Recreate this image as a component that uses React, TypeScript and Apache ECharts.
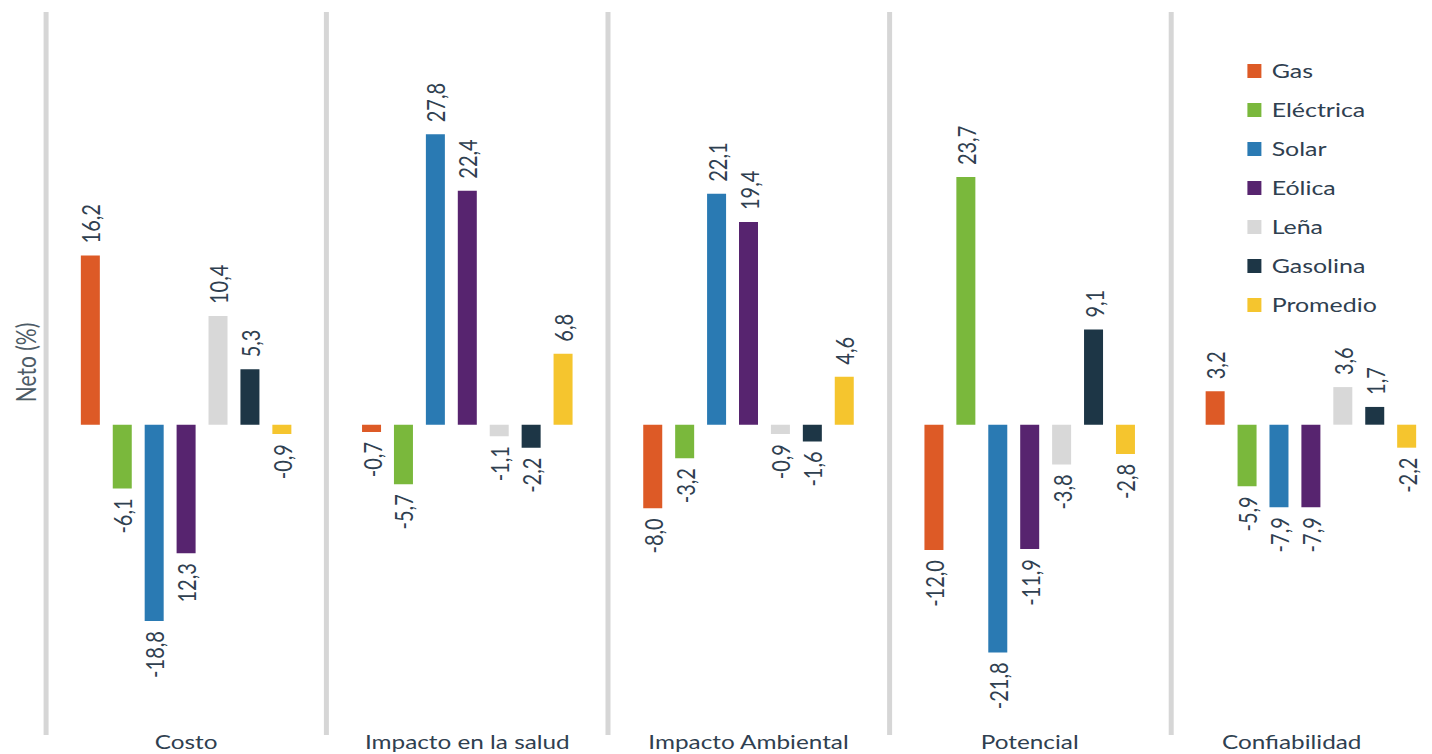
import React, { useEffect, useRef } from "react";
import * as echarts from "echarts";

const categories = ["Costo", "Impacto en la salud", "Impacto Ambiental", "Potencial", "Confiabilidad"];
const seriesNames = ["Gas", "Eléctrica", "Solar", "Eólica", "Leña", "Gasolina", "Promedio"];
const colors = ["#dd5a26", "#7ab83c", "#2a7ab3", "#57246f", "#d8d8d8", "#1d3646", "#f5c52e"];

const gas = [16.2, -0.7, -8.0, -12.0, 3.2];
const electrica = [-6.1, -5.7, -3.2, 23.7, -5.9];
const solar = [-18.8, 27.8, 22.1, -21.8, -7.9];
const eolica = [-12.3, 22.4, 19.4, -11.9, -7.9];
const lena = [10.4, -1.1, -0.9, -3.8, 3.6];
const gasolina = [5.3, -2.2, -1.6, 9.1, 1.7];
const promedio = [-0.9, 6.8, 4.6, -2.8, -2.2];

const seriesValues = [gas, electrica, solar, eolica, lena, gasolina, promedio];

// label text shown in the source differs from the sign of the value in one case
const labelOverrides: Record<string, string> = { "Eólica|Costo": "12,3" };

const FONT = "Lato";
const TEXT = "#2f4050";
// the reference is stretched horizontally; draw narrower and stretch with CSS
const SX = 1.28;
const px = (v: number) => v / SX;

export default function App() {
  const ref = useRef<HTMLDivElement>(null);
  useEffect(() => {
    document.body.style.margin = "0";
    const chart = echarts.init(ref.current!, null, { renderer: "svg" });
    const series = seriesNames.map((name, si) => ({
      name,
      type: "bar",
      barWidth: px(19),
      barGap: "68%",
      itemStyle: { color: colors[si] },
      data: seriesValues[si].map((v, ci) => {
        const key = name + "|" + categories[ci];
        const txt = labelOverrides[key] ?? v.toFixed(1).replace(".", ",");
        const pos = v >= 0;
        return {
          value: v,
          label: {
            show: true,
            position: pos ? "top" : "bottom",
            rotate: 90,
            align: pos ? "left" : "right",
            verticalAlign: "middle",
            distance: pos ? 12 : 10,
            formatter: () => txt,
            fontSize: 20,
            fontFamily: FONT,
            color: TEXT,
          },
        };
      }),
    }));
    chart.setOption({
      animation: false,
      textStyle: { fontFamily: FONT },
      grid: { left: px(45.5), top: 12, bottom: 19, width: px(281.2 * 5), containLabel: false },
      legend: {
        orient: "vertical",
        left: px(1241),
        top: 56,
        icon: "rect",
        itemWidth: px(14),
        itemHeight: 14,
        itemGap: 19,
        selectedMode: false,
        textStyle: { fontSize: 19.5, fontFamily: FONT, color: TEXT, padding: [0, 0, 0, 3] },
        data: seriesNames,
      },
      xAxis: {
        type: "category",
        data: categories,
        axisLine: { show: false },
        axisTick: { show: false },
        splitLine: { show: true, lineStyle: { color: "#d6d6d6", width: px(5) } },
        axisLabel: {
          margin: -3,
          fontSize: 19,
          lineHeight: 19,
          fontFamily: FONT,
          color: TEXT,
          interval: 0,
          formatter: (v: string) => (v === "Confiabilidad" ? "{c|" + v + "}" : v),
          rich: { c: { fontSize: 19, lineHeight: 19, fontFamily: FONT, color: TEXT, padding: [0, 30, 0, 0] } },
        },
      },
      yAxis: {
        type: "value",
        min: -29.7,
        max: 39.5,
        name: "Neto (%)",
        nameLocation: "middle",
        nameGap: 5,
        nameTextStyle: { fontSize: 21, lineHeight: 21, fontFamily: FONT, color: "#4d5b66", padding: [0, 0, 0, 22] },
        axisLine: { show: false },
        axisTick: { show: false },
        axisLabel: { show: false },
        splitLine: { show: false },
      },
      series,
    });
    return () => chart.dispose();
  }, []);
  return (
    <div style={{ width: 1432, height: 754, overflow: "hidden", position: "relative" }}>
      <div
        ref={ref}
        style={{ width: 1140, height: 754, transform: `scaleX(${SX})`, transformOrigin: "0 0" }}
      />
    </div>
  );
}
